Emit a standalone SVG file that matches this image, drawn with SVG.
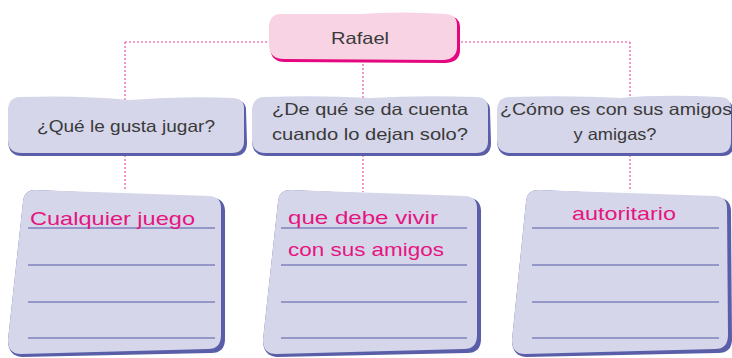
<svg xmlns="http://www.w3.org/2000/svg" width="732" height="358" viewBox="0 0 732 358">
<style>
.conn{fill:none;stroke:#ef7fba;stroke-width:1.6;stroke-dasharray:2 2}
.qbox{fill:#d5d6ea}
.qsh{fill:#5a5ea8}
.rbox{fill:#f8d3e4}
.rsh{fill:#e4077f}
.rule{stroke:#9597c6;stroke-width:2}
.q{font-family:"Liberation Sans",Arial,sans-serif;font-size:16.5px;fill:#3a3a3a}
.a{font-family:"Liberation Sans",Arial,sans-serif;font-size:19px;fill:#e5157f}
</style>
<rect width="732" height="358" fill="#ffffff"/>
<g id="connectors">
<path class="conn" d="M125 42 H271 M457 42 H630"/>
<path class="conn" d="M125 42 V100 M125 155 V191"/>
<path class="conn" d="M363 60 V100 M363 155 V192"/>
<path class="conn" d="M630 42 V100 M630 155 V191"/>
</g>
<g id="rafael">
<path class="rsh" d="M282 16 Q270 16 270 28 L270 48 Q271 62 285 62 L446 63 Q460 62 460 50 L460 26 Q459 16 448 16 Z"/>
<path class="rbox" d="M281 14 Q270 14 269 26 L269 46 Q270 59 284 59 L444 60 Q456 59 457 48 L457 24 Q456 14 446 14 Q400 11 360 14 Z"/>
<text class="q" x="360" y="44" text-anchor="middle" textLength="58" lengthAdjust="spacingAndGlyphs">Rafael</text>
</g>
<g id="q1">
<path class="qsh" d="M21 100 Q8 100 8 114 L8 142 Q9 157 24 156 L234 156 Q247 156 247 143 L246 110 Q246 100 234 100 Z"/>
<path class="qbox" d="M20 97 Q8 97 8 111 L8 140 Q8 153 22 153 L232 153 Q244 153 244 141 L244 108 Q244 98 232 98 Q180 96 130 100 Q80 95 20 97 Z"/>
<text class="q" x="126" y="132" text-anchor="middle" textLength="178" lengthAdjust="spacingAndGlyphs">¿Qué le gusta jugar?</text>
</g>
<g id="q2">
<path class="qsh" d="M266 100 Q252 100 252 114 L252 142 Q253 157 268 156 L478 156 Q491 156 491 143 L490 110 Q490 100 478 100 Z"/>
<path class="qbox" d="M265 97 Q252 97 252 111 L252 140 Q252 153 266 153 L476 153 Q488 153 488 141 L488 108 Q488 97 476 97 Q420 95 370 98 Q320 95 265 97 Z"/>
<text class="q" x="370" y="115" text-anchor="middle" textLength="196" lengthAdjust="spacingAndGlyphs">¿De qué se da cuenta</text>
<text class="q" x="370" y="140" text-anchor="middle" textLength="196" lengthAdjust="spacingAndGlyphs">cuando lo dejan solo?</text>
</g>
<g id="q3">
<path class="qsh" d="M511 100 Q497 100 497 114 L497 142 Q498 157 513 156 L722 156 Q734 156 734 143 L733 110 Q733 100 721 100 Z"/>
<path class="qbox" d="M510 97 Q497 97 497 111 L497 140 Q497 153 511 153 L720 153 Q731 153 731 141 L731 108 Q731 97 720 97 Q660 94 620 98 Q570 95 510 97 Z"/>
<text class="q" x="616" y="115" text-anchor="middle" textLength="232" lengthAdjust="spacingAndGlyphs">¿Cómo es con sus amigos</text>
<text class="q" x="615" y="140" text-anchor="middle" textLength="83" lengthAdjust="spacingAndGlyphs">y amigas?</text>
</g>
<g id="a1">
<path class="qsh" d="M35 190 Q24 190 23 202 L8 340 Q8 356 22 357 L211 353 Q225 353 225 339 L225 210 Q224 198 212 198 Z"/>
<path class="qbox" d="M35 190 Q24 190 23 202 L8 340 Q8 354 21 354 L208 349 Q221 349 221 335 L221 208 Q221 197 210 196 Z"/>
<line class="rule" x1="28" y1="228" x2="215" y2="228"/>
<line class="rule" x1="28" y1="265" x2="215" y2="265"/>
<line class="rule" x1="28" y1="302" x2="215" y2="302"/>
<line class="rule" x1="28" y1="338" x2="215" y2="338"/>
<text class="a" x="30" y="225" textLength="165" lengthAdjust="spacingAndGlyphs">Cualquier juego</text>
</g>
<g id="a2">
<path class="qsh" d="M290 190 Q279 190 278 202 L263 340 Q263 356 277 357 L467 353 Q481 353 481 339 L481 210 Q480 198 468 198 Z"/>
<path class="qbox" d="M290 190 Q279 190 278 202 L263 340 Q263 354 276 354 L464 349 Q477 349 477 335 L477 208 Q477 197 466 196 Z"/>
<line class="rule" x1="281" y1="228" x2="467" y2="228"/>
<line class="rule" x1="281" y1="265" x2="467" y2="265"/>
<line class="rule" x1="281" y1="302" x2="467" y2="302"/>
<line class="rule" x1="281" y1="338" x2="467" y2="338"/>
<text class="a" x="288" y="224" textLength="150" lengthAdjust="spacingAndGlyphs">que debe vivir</text>
<text class="a" x="288" y="256" textLength="156" lengthAdjust="spacingAndGlyphs">con sus amigos</text>
</g>
<g id="a3">
<path class="qsh" d="M538 190 Q527 190 526 202 L512 340 Q512 356 526 357 L718 353 Q732 353 732 339 L731 210 Q730 198 718 198 Z"/>
<path class="qbox" d="M538 190 Q527 190 526 202 L512 340 Q512 354 525 354 L715 349 Q728 349 728 335 L727 208 Q727 197 716 196 Z"/>
<line class="rule" x1="532" y1="228" x2="719" y2="228"/>
<line class="rule" x1="532" y1="265" x2="719" y2="265"/>
<line class="rule" x1="532" y1="302" x2="719" y2="302"/>
<line class="rule" x1="532" y1="338" x2="719" y2="338"/>
<text class="a" x="572" y="220" textLength="104" lengthAdjust="spacingAndGlyphs">autoritario</text>
</g>
</svg>
